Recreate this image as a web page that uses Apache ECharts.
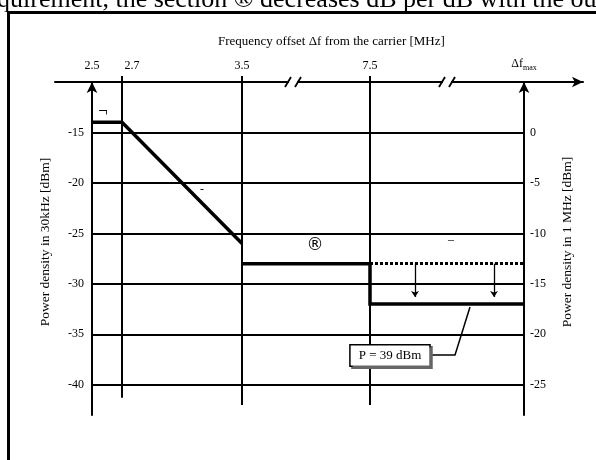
<!DOCTYPE html>
<html>
<head>
<meta charset="utf-8">
<script src="https://cdn.jsdelivr.net/npm/echarts@6/dist/echarts.min.js"></script>
<style>
    html, body { margin: 0; padding: 0; background: #fff; }
    #chart { width: 596px; height: 460px; }
</style>
</head>
<body>
<div id="chart"></div>
<script>
// frequency offset axis (MHz), Δfmax taken as 12.5 MHz
var freqTicks = [2.5, 2.7, 3.5, 7.5, 12.5];
var freqTickLabels = ['2.5', '2.7', '3.5', '7.5', 'Δfmax'];
var gridFreqs = [2.7, 3.5, 7.5];

// power density ticks
var psd30kTicks = [-15, -20, -25, -30, -35, -40];
var psd1MTicks = [0, -5, -10, -15, -20, -25];
var bwOffset = 15; // 30 kHz -> 1 MHz

// mask segments [MHz, dBm/30kHz]
var maskSlope = [[2.5, -14], [2.7, -14], [3.5, -26]];
var maskStep = [[3.5, -28], [7.5, -28], [7.5, -32], [12.5, -32]];
var maskHighPower = [[7.5, -28], [12.5, -28]];
var reductionArrowX = [7.8, 12.3];
var powerLabel = 'P = 39 dBm';

// section marks (garbled symbols from the source)
var sectionMarks = [
    { name: '¬', value: [2.573, -12.95] },
    { name: '-', value: [3.233, -20.7] },
    { name: '®', value: [7.133, -26.25] },
    { name: '–', value: [12.013, -25.6] }
];

var FONT = 'Liberation Serif';
var chart = echarts.init(document.getElementById('chart'));

var xMin = 2.2533, xMax = 12.8933;
var yMin = -43, yMax = -10;

function seg(a, b) { return { coords: [a, b] }; }

var hGrid = psd30kTicks.map(function (v) { return seg([freqTicks[0], v], [freqTicks[4], v]); });
var vGrid = gridFreqs.map(function (f) { return seg([f, -9.4], [f, f === 2.7 ? -41.3 : -42]); });

var axisName = { fontFamily: FONT, fontSize: 13.5, color: '#000', padding: [0, 0, 0, 13] };
var markFont = { '¬': { fontSize: 17 }, '®': { fontSize: 17, fontFamily: 'DejaVu Sans' } };

var option = {
    animation: false,
    title: {
        text: 'Frequency offset Δf from the carrier [MHz]',
        left: 218, top: 35, padding: 0,
        textStyle: { fontFamily: FONT, fontSize: 13, fontWeight: 'normal', color: '#000' }
    },
    grid: { left: 55, right: 13, top: 82, bottom: 45 },
    xAxis: {
        type: 'value', position: 'top', min: xMin, max: xMax,
        breaks: [
            { start: 3.8133, end: 7.0133, gap: 0.0533 },
            { start: 7.9867, end: 12.0133, gap: 0.0533 }
        ],
        breakArea: { show: false, expandOnClick: false },
        axisLine: { onZero: false, lineStyle: { color: '#000', width: 2 }, symbol: ['none', 'arrow'], symbolSize: [8, 11] },
        axisTick: { show: false, customValues: freqTicks },
        splitLine: { show: false },
        axisLabel: {
            customValues: freqTicks, margin: 10, color: '#000', fontFamily: FONT, fontSize: 12,
            formatter: function (v) {
                var i = freqTicks.indexOf(v);
                var t = freqTickLabels[i];
                if (t === '2.7') return '{r|2.7}';
                if (t === 'Δfmax') return '{d|Δf}{s|max}';
                return t;
            },
            rich: {
                r: { fontFamily: FONT, fontSize: 12, padding: [0, 0, 0, 20] },
                d: { fontFamily: FONT, fontSize: 12 },
                s: { fontFamily: FONT, fontSize: 8, padding: [8, 0, 0, 0] }
            }
        }
    },
    yAxis: [{
        type: 'value', position: 'left', offset: -37, min: yMin, max: yMax,
        name: 'Power density in 30kHz [dBm]', nameLocation: 'middle', nameGap: 40, nameRotate: 90,
        nameTextStyle: axisName,
        axisLine: { show: true, onZero: false, lineStyle: { color: '#000', width: 2 }, symbol: ['none', 'arrow'], symbolSize: [8, 11] },
        axisTick: { show: false, customValues: psd30kTicks },
        splitLine: { show: false },
        axisLabel: { customValues: psd30kTicks, margin: 8, color: '#000', fontFamily: FONT, fontSize: 12 }
    }, {
        type: 'value', position: 'right', offset: -59, min: yMin + bwOffset, max: yMax + bwOffset,
        name: 'Power density in 1 MHz [dBm]', nameLocation: 'middle', nameGap: 36, nameRotate: 90,
        nameTextStyle: axisName,
        axisLine: { show: true, onZero: false, lineStyle: { color: '#000', width: 2 }, symbol: ['none', 'arrow'], symbolSize: [8, 11] },
        axisTick: { show: false, customValues: psd1MTicks },
        splitLine: { show: false },
        axisLabel: { customValues: psd1MTicks, margin: 6, color: '#000', fontFamily: FONT, fontSize: 12 }
    }],
    series: [{
        type: 'lines', coordinateSystem: 'cartesian2d', clip: false, silent: true, z: 1,
        lineStyle: { color: '#000', width: 2, opacity: 1 },
        data: hGrid.concat(vGrid)
    }, {
        type: 'lines', coordinateSystem: 'cartesian2d', polyline: true, clip: false, silent: true, z: 3,
        lineStyle: { color: '#000', width: 3.5, opacity: 1, join: 'miter' },
        data: [{ coords: maskSlope }, { coords: maskStep }]
    }, {
        type: 'lines', coordinateSystem: 'cartesian2d', clip: false, silent: true, z: 3,
        lineStyle: { color: '#000', width: 3, type: [3, 2], opacity: 1 },
        data: [{ coords: maskHighPower }]
    }, {
        type: 'lines', coordinateSystem: 'cartesian2d', clip: false, silent: true, z: 3,
        symbol: ['none', 'arrow'], symbolSize: 6,
        lineStyle: { color: '#000', width: 1.3, opacity: 1 },
        data: reductionArrowX.map(function (x) { return seg([x, maskHighPower[0][1]], [x, -31.3]); })
    }, {
        type: 'lines', coordinateSystem: 'cartesian2d', polyline: true, clip: false, silent: true, z: 3,
        symbol: ['none', 'arrow'], symbolSize: 8,
        lineStyle: { color: '#000', width: 1.5, opacity: 1 },
        data: [{ coords: [[7.9, -37.06], [12.04, -37.06], [12.14, -32.3]] }]
    }, {
        type: 'scatter', symbolSize: 0, silent: true, z: 4,
        itemStyle: { opacity: 1 },
        label: {
            show: true, position: 'inside', color: '#000', fontFamily: FONT, fontSize: 12,
            formatter: function (p) { return p.name; }
        },
        data: sectionMarks.map(function (m) {
            return markFont[m.name] ? { name: m.name, value: m.value, label: markFont[m.name] } : m;
        })
    }, {
        type: 'scatter', symbolSize: 0, silent: true, z: 5,
        itemStyle: { opacity: 1 },
        label: {
            show: true, position: 'inside', color: '#000', fontFamily: FONT, fontSize: 13,
            backgroundColor: '#ffffff', borderColor: '#000', borderWidth: 1.5,
            padding: [4, 8, 3, 8],
            shadowColor: '#666', shadowOffsetX: 2, shadowOffsetY: 2, shadowBlur: 0,
            formatter: function (p) { return p.name; }
        },
        data: [{ name: powerLabel, value: [7.633, -37.1] }]
    }]
};

chart.setOption(option);

// break marks "//" on the frequency axis, plus frame and cut-off text
var axisY = chart.convertToPixel({ yAxisIndex: 0 }, yMax);
var graphics = [
    { type: 'line', shape: { x1: 8.5, y1: 12, x2: 8.5, y2: 460 }, style: { stroke: '#000', lineWidth: 3 } },
    { type: 'line', shape: { x1: 7, y1: 12.5, x2: 596, y2: 12.5 }, style: { stroke: '#000', lineWidth: 3 } },
    { type: 'text', x: -3, y: 0, style: { text: 'quirement, the section ® decreases dB per dB with the ou', font: '26px "Liberation Serif"', fill: '#000', verticalAlign: 'middle' } }
];
option.xAxis.breaks.forEach(function (b) {
    var cx = (chart.convertToPixel({ xAxisIndex: 0 }, b.start) + chart.convertToPixel({ xAxisIndex: 0 }, b.end)) / 2;
    graphics.push({ type: 'rect', shape: { x: cx - 4, y: axisY - 2, width: 8, height: 4 }, style: { fill: '#fff' }, z: 10 });
    [-5, 5].forEach(function (d) {
        graphics.push({ type: 'line', shape: { x1: cx + d - 3, y1: axisY + 5, x2: cx + d + 3, y2: axisY - 5 }, style: { stroke: '#000', lineWidth: 1.8 }, z: 11 });
    });
});
chart.setOption({ graphic: graphics });
</script>
</body>
</html>
